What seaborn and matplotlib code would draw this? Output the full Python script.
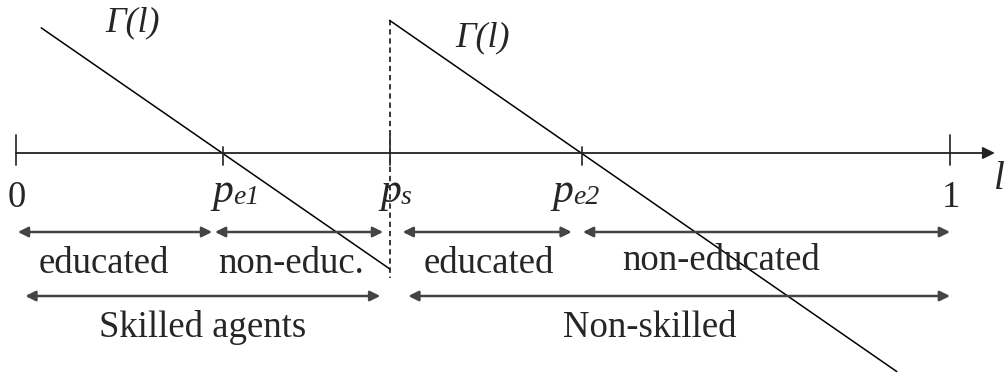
import matplotlib
matplotlib.use("Agg")
import matplotlib.pyplot as plt
import seaborn as sns
import pandas as pd

# thresholds on the l axis
tick_pos = [0.0, 0.222, 0.40, 0.606, 1.0]
tick_names = ["0", "p_e1", "p_s", "p_e2", "1"]
tick_subs = {"p_e1": "e1", "p_s": "s", "p_e2": "e2"}

# the two pieces of Gamma(l)
seg1_l = [0.027, 0.40]
seg1_g = [0.134, -0.124]
seg2_l = [0.40, 0.943]
seg2_g = [0.142, -0.234]

# interval arrows (start, end) in l units
row1_spans = [(0.002, 0.210), (0.213, 0.393), (0.414, 0.595), (0.607, 1.0)]
row1_labels = ["educated", "non-educ.", "educated", "non-educated"]
row2_spans = [(0.010, 0.390), (0.420, 1.0)]
row2_labels = ["Skilled agents", "Non-skilled"]

sns.set_theme(style="white")
plt.rcParams["font.family"] = ["Liberation Serif", "DejaVu Serif"]

S = 934.0  # pixels per unit


def px(x, y):
    return (x - 16) / S, (153 - y) / S


fig = plt.figure(figsize=(10.08, 3.75), dpi=100)
ax = fig.add_axes([0, 0, 1, 1])
ax.set_xlim(-16 / S, 992 / S)
ax.set_ylim(-222 / S, 153 / S)
ax.axis("off")

df = pd.DataFrame({
    "l": seg1_l + seg2_l,
    "gamma": seg1_g + seg2_g,
    "seg": [1, 1, 2, 2],
})
sns.lineplot(data=df, x="l", y="gamma", units="seg", estimator=None,
             color="black", lw=1.1, ax=ax, legend=False)

# dashed jump at p_s
ax.plot([tick_pos[2], tick_pos[2]], [seg2_g[0], -0.134], color="black",
        lw=1.1, ls=(0, (3.5, 2.5)))

# l axis
ax.annotate("", xy=(1.048, 0), xytext=(0, 0),
            arrowprops=dict(arrowstyle="-|>", color="#222222", lw=1.3,
                            mutation_scale=18, shrinkA=0, shrinkB=0))
for i, t in enumerate(tick_pos):
    top = 18 / S if i in (0, 4, 2) else 6 / S
    ax.plot([t, t], [top, -12 / S], color="#333333", lw=1.3)

# tick labels
num_xy = {"0": (17, 207), "1": (951, 207)}
p_xy = {"p_e1": (212, 202), "p_s": (380, 202), "p_e2": (552, 202)}
for name in tick_names:
    if name in num_xy:
        ax.text(*px(*num_xy[name]), name, ha="center", va="baseline",
                fontsize=26.5)
    else:
        x, y = p_xy[name]
        ax.text(*px(x, y), "p", ha="left", va="baseline", fontsize=30,
                style="italic")
        ax.text(*px(x + 21, y + 2), tick_subs[name], ha="left",
                va="baseline", fontsize=20, style="italic")
ax.text(*px(999, 189), "l", ha="center", va="baseline", fontsize=28,
        style="italic")

# Gamma labels
ax.text(*px(133, 31), "Γ(l)", ha="center", va="baseline", fontsize=26,
        style="italic")
ax.text(*px(483, 46), "Γ(l)", ha="center", va="baseline", fontsize=26,
        style="italic")

arrow_kw = dict(arrowstyle="<|-|>", color="#444444", lw=1.8,
                mutation_scale=15, shrinkA=0, shrinkB=0)
y1 = px(0, 232)[1]
y2 = px(0, 296)[1]
for a, b in row1_spans:
    ax.annotate("", xy=(b, y1), xytext=(a, y1), arrowprops=arrow_kw)
for a, b in row2_spans:
    ax.annotate("", xy=(b, y2), xytext=(a, y2), arrowprops=arrow_kw)

row1_xy = [(104, 273), (291, 273), (489, 273), (721, 270)]
for lab, (x, y) in zip(row1_labels, row1_xy):
    ax.text(*px(x, y), lab, ha="center", va="baseline", fontsize=26.5)
row2_xy = [(203, 337), (650, 337)]
for lab, (x, y) in zip(row2_labels, row2_xy):
    ax.text(*px(x, y), lab, ha="center", va="baseline", fontsize=26.5)

fig.savefig("out.png", dpi=100)
